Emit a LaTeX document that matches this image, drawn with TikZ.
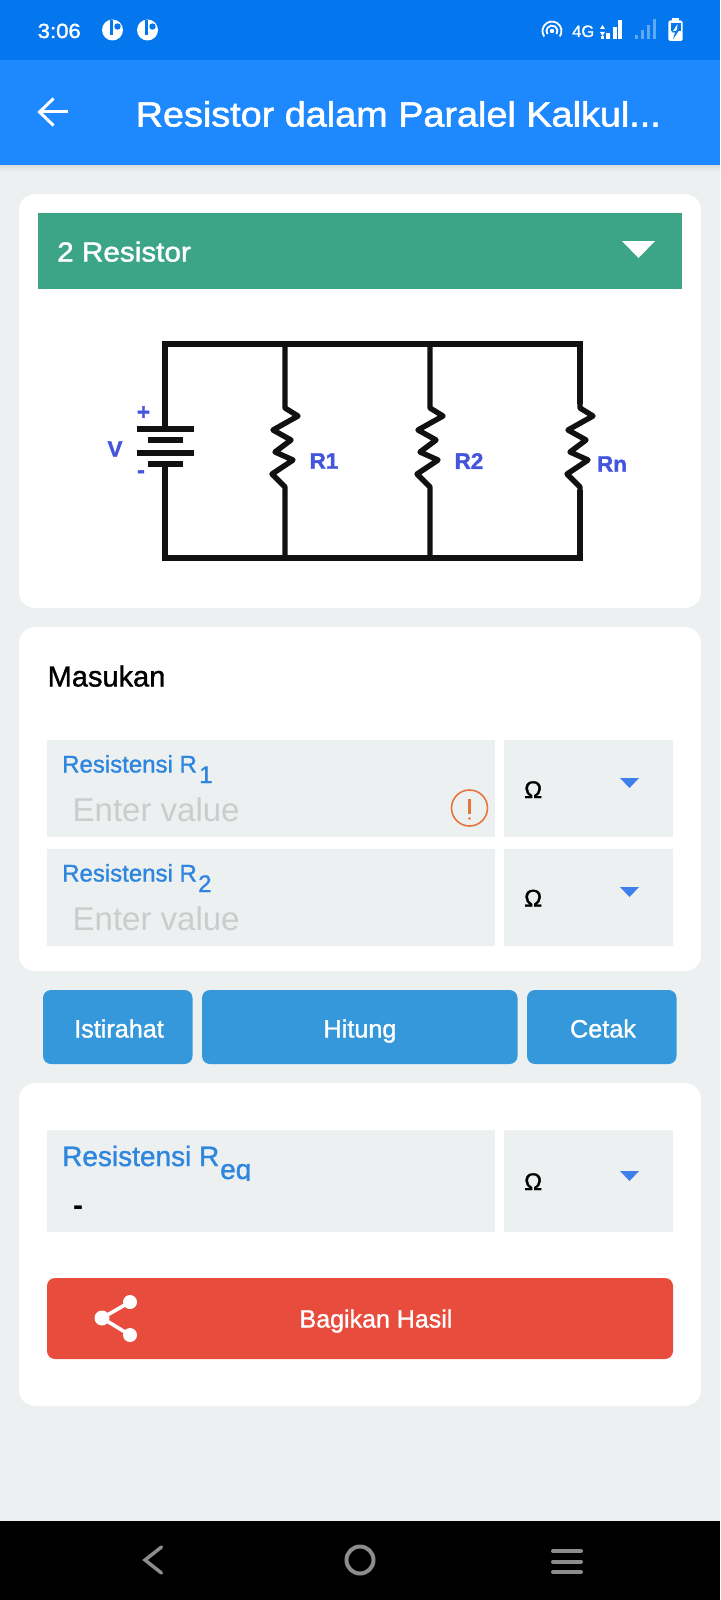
\documentclass[tikz,border=0pt]{standalone}
\usepackage{fontspec}
\setmainfont{Liberation Sans}
\newfontfamily\medfont{Liberation Sans}[FakeBold=1.2]
\newfontfamily\widefont{Liberation Sans}[FakeBold=1.6,FakeStretch=1.08]
\newfontfamily\heavyfont{Liberation Sans}[BoldFeatures={FakeBold=1.5}]
\newcommand{\fsz}[1]{\fontsize{#1}{#1}\selectfont}
\definecolor{barblue}{HTML}{0477EE}
\definecolor{appblue}{HTML}{1E88FF}
\definecolor{dimblue}{HTML}{5FA8F5}
\definecolor{pagegray}{HTML}{ECF0F1}
\definecolor{selgreen}{HTML}{3DA587}
\definecolor{btnblue}{HTML}{3498DB}
\definecolor{btnred}{HTML}{E74C3C}
\definecolor{lblblue}{HTML}{2E86DE}
\definecolor{tipblue}{HTML}{3F7FEB}
\definecolor{hintgray}{HTML}{CCCCCC}
\definecolor{warnorange}{HTML}{E6743C}
\definecolor{navgray}{HTML}{8C8C8C}
\definecolor{circblue}{HTML}{4455DD}
\definecolor{wireblack}{HTML}{111111}
\usetikzlibrary{positioning}

\begin{document}
\begin{tikzpicture}[x=1pt,y=-1pt,
  txt/.style = {inner sep=0,anchor=base west},
  ctxt/.style = {inner sep=0,anchor=base},
  card/.style = {fill=white,rounded corners=16pt},
  field/.style = {fill=pagegray},
  btn/.style = {fill=btnblue,rounded corners=8pt},
  tip/.style = {fill=tipblue},
  wire/.style = {draw=wireblack,line width=5.4pt},
  zig/.style = {wire,line join=round},
  plate/.style = {draw=wireblack,line width=5.4pt},
  lbl/.style = {txt,text=lblblue,font=\medfont\fsz{24}},
  hint/.style = {txt,text=hintgray,font=\fsz{33}},
  unit/.style = {txt,text=black,font=\medfont\fsz{24}},
  btntxt/.style = {ctxt,text=white,font=\medfont\fsz{25.2}},
  circ/.style = {text=circblue,inner sep=0,font=\heavyfont\bfseries\fsz{22.5}},
  navline/.style = {draw=navgray,line width=4pt,line cap=round}]
\useasboundingbox (0,0) rectangle (720,1600);
% page and bars
\fill[pagegray] (0,0) rectangle (720,1600);
\fill[barblue] (0,0) rectangle (720,60);
\fill[appblue] (0,60) rectangle (720,165);
\fill[top color=black!8!pagegray,bottom color=pagegray] (0,165) rectangle (720,172);
\fill[black] (0,1521) rectangle (720,1600);
% status bar
\node[txt,text=white,font=\widefont\fsz{20.5}] (clock) at (37.5,38) {3:06};
\fill[white] (112.5,30) circle[radius=10.5pt];
\draw[barblue,line width=2.6pt] (111.5,20) -- (111.5,35);
\fill[barblue] (117.5,26.5) circle[radius=3.2pt];
\fill[white] (147.5,30) circle[radius=10.5pt];
\draw[barblue,line width=2.6pt] (146.5,20) -- (146.5,35);
\fill[barblue] (152.5,26.5) circle[radius=3.2pt];
\draw[white,line width=1.8pt] ([shift={(-35:9.5pt)}]552,31) arc[start angle=-35,end angle=215,radius=9.5pt];
\draw[white,line width=1.8pt] ([shift={(-35:5.5pt)}]552,31) arc[start angle=-35,end angle=215,radius=5.5pt];
\fill[white] (552,31) circle[radius=2.2pt];
\node[txt,text=white,font=\medfont\fsz{16.5}] (net) at (572,37) {4G};
\fill[white] (600,29) -- (602.5,25) -- (605,29) -- cycle;
\fill[white] (600,32) -- (602.5,36) -- (605,32) -- cycle;
\fill[white] (600.5,36.5) rectangle (604,39);
\fill[white] (606,33) rectangle (610,39);
\fill[white] (612.7,27) rectangle (616.7,39);
\fill[white] (618.3,20) rectangle (622,39);
\fill[dimblue] (635,35) rectangle (638,39);
\fill[dimblue] (640.7,30) rectangle (644,39);
\fill[dimblue] (646.7,25) rectangle (649.7,39);
\fill[dimblue] (652.7,19.5) rectangle (656,39);
\fill[white] (672,18) rectangle (679,22);
\fill[white,rounded corners=1.5pt] (668.3,20.5) rectangle (682.7,41);
\fill[barblue] (670.5,23) rectangle (680.5,31);
\fill[barblue] (677.5,23.5) -- (671.5,32.5) -- (675,32.5) -- (673,39.5) -- (679.5,29.5) -- (676,29.5) -- cycle;
\fill[white] (677.5,24) -- (673,31) -- (676,31) -- (677,29) -- cycle;
% app bar
\draw[white,line width=3pt] (68,112) -- (39,112);
\draw[white,line width=3pt,line join=miter] (53.5,98.5) -- (39.5,112) -- (53.5,125.5);
\node[txt,text=white,font=\widefont\fsz{35}] (title) at (135.5,126.5) {Resistor dalam Paralel Kalkul...};
% circuit card
\fill[card] (19,194) rectangle (701,608);
\fill[selgreen] (38,213) rectangle (682,289);
\node[txt,text=white,font=\widefont\fsz{27.5}] (sel) at (57,261.5) {2 Resistor};
\fill[white] (622,241) -- (655,241) -- (638.5,258) -- cycle;
\coordinate (tl) at (165,344);
\coordinate (tr) at (580,344);
\coordinate (bl) at (165,558);
\coordinate (br) at (580,558);
\coordinate (top1) at (285,344);
\coordinate (top2) at (430,344);
\coordinate (bot1) at (285,558);
\coordinate (bot2) at (430,558);
\coordinate (battp) at (165,429);
\coordinate (battn) at (165,464);
\draw[wire] (battp) -- (tl) -- (tr) -- (580,404);
\draw[wire] (580,490) -- (br) -- (bl) -- (battn);
\draw[zig] (top1) -- (285,408) -- ++(13,8) -- ++(-25,14) -- ++(18,10) -- ++(-16,12) -- ++(18,8) -- ++(-21,14) -- (285,487) -- (bot1);
\draw[zig] (top2) -- (430,408) -- ++(13,8) -- ++(-25,14) -- ++(18,10) -- ++(-16,12) -- ++(18,8) -- ++(-21,14) -- (430,487) -- (bot2);
\draw[zig] (580,404) -- (580,408) -- ++(13,8) -- ++(-25,14) -- ++(18,10) -- ++(-16,12) -- ++(18,8) -- ++(-21,14) -- (580,487) -- (580,490);
\draw[plate] (136.5,429) -- (194,429);
\draw[plate] (147.5,440) -- (183,440);
\draw[plate] (136.5,453) -- (194,453);
\draw[plate] (147.5,464) -- (183,464);
\node[circ] (vlab) at (115,449) {V};
\node[circ] (plus) at (143.5,413) {+};
\node[circ] (minus) at (141,474) {-};
\node[circ] (r1lab) at (324,461) {R1};
\node[circ] (r2lab) at (469,461) {R2};
\node[circ] (rnlab) at (612,464) {Rn};
% input card
\fill[card] (19,627) rectangle (701,971);
\node[txt,text=black,font=\medfont\fsz{29}] (masukan) at (47.5,686.5) {Masukan};
\fill[field] (47,740) rectangle (495,837);
\fill[field] (504,740) rectangle (673,837);
\fill[field] (47,849) rectangle (495,946);
\fill[field] (504,849) rectangle (673,946);
\node[lbl] (lab1) at (62,772.5) {Resistensi R};
\node[lbl] (sub1) at (199,783) {1};
\node[hint] (val1) at (72.5,821) {Enter value};
\node[lbl] (lab2) at (62,881.5) {Resistensi R};
\node[lbl] (sub2) at (198,892) {2};
\node[hint] (val2) at (72.5,930) {Enter value};
\draw[warnorange,line width=1.6pt] (469.5,808) circle[radius=18pt];
\draw[warnorange,line width=2.2pt] (469.5,798.5) -- (469.5,813.5);
\fill[warnorange] (469.5,818.5) circle[radius=1.4pt];
\node[unit] (om1) at (524,798) {Ω};
\node[unit] (om2) at (524,906.5) {Ω};
\fill[tip] (620,778) -- (639,778) -- (629.5,788) -- cycle;
\fill[tip] (620,887) -- (639,887) -- (629.5,897) -- cycle;
% buttons
\fill[btn] (43,990) rectangle (192.5,1064);
\fill[btn] (202,990) rectangle (517.5,1064);
\fill[btn] (527,990) rectangle (676.5,1064);
\node[btntxt] (reset) at (119,1037.5) {Istirahat};
\node[btntxt] (calc) at (360,1037.5) {Hitung};
\node[btntxt] (print) at (603,1037.5) {Cetak};
% result card
\fill[card] (19,1083) rectangle (701,1406);
\fill[field] (47,1130) rectangle (495,1232);
\fill[field] (504,1130) rectangle (673,1232);
\node[lbl,font=\medfont\fsz{28}] (labeq) at (62,1166) {Resistensi R};
\begin{scope}
\clip (215,1140) rectangle (260,1180);
\node[lbl,font=\medfont\fsz{28}] (subeq) at (220,1179) {eq};
\end{scope}
\node[txt,text=black,font=\bfseries\fsz{30}] (dash) at (73,1215) {-};
\node[unit] (om3) at (524,1190) {Ω};
\fill[tip] (620,1171) -- (639,1171) -- (629.5,1181) -- cycle;
\fill[btnred,rounded corners=8pt] (47,1278) rectangle (673,1359);
\node[ctxt,text=white,font=\medfont\fsz{25}] (share) at (376,1327.5) {Bagikan Hasil};
\coordinate (sa) at (102,1318);
\coordinate (sb) at (130,1302);
\coordinate (sc) at (130,1335);
\draw[white,line width=3.6pt] (sb) -- (sa) -- (sc);
\fill[white] (sa) circle[radius=7.5pt];
\fill[white] (sb) circle[radius=7pt];
\fill[white] (sc) circle[radius=7pt];
% navigation bar
\draw[navline,line width=3.5pt,line join=miter] (161.5,1547) -- (145,1560) -- (161.5,1573);
\draw[navgray,line width=4pt] (360,1560) circle[radius=13.5pt];
\draw[navline] (553,1551) -- (581,1551);
\draw[navline] (553,1561.5) -- (581,1561.5);
\draw[navline] (553,1572) -- (581,1572);
\end{tikzpicture}
\end{document}
